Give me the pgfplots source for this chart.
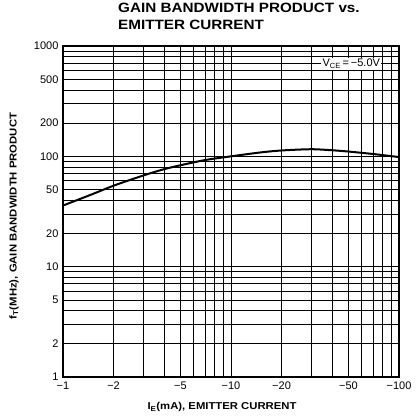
\documentclass[border=0pt]{standalone}
\usepackage{fontspec}
\setmainfont{Liberation Sans}
\newfontfamily\widefont[FakeStretch=1.13]{Liberation Sans}
\usepackage{pgfplots}
\pgfplotsset{compat=1.18}
\begin{document}
\begin{tikzpicture}[x=1pt,y=1pt]
\path[use as bounding box] (0,0) rectangle (418,416);
\begin{axis}[
  at={(63pt,39pt)}, anchor=south west,
  scale only axis, width=336pt, height=331pt,
  xmode=log, ymode=log,
  xmin=1, xmax=100, ymin=1, ymax=1000,
  axis line style={line width=1.8pt},
  grid=both,
  major grid style={black, line width=0.75pt},
  minor grid style={black, line width=0.75pt},
  xtick={1,2,5,10,20,50,100},
  xticklabels={−1,−2,−5,−10,−20,−50,−100},
  ytick={1,2,5,10,20,50,100,200,500,1000},
  yticklabels={1,2,5,10,20,50,100,200,500,1000},
  minor xtick={3,4,6,7,8,9,30,40,60,70,80,90},
  minor ytick={3,4,6,7,8,9,30,40,60,70,80,90,300,400,600,700,800,900},
  tick style={draw=none},
  tick label style={font=\fontsize{11}{12}\selectfont},
  xticklabel style={yshift=-1pt},
  yticklabel style={xshift=-1pt},
  /pgf/number format/assume math mode=true,
  clip=true,
]
\addplot[black, line width=2pt, smooth] coordinates {
 (1,35.8) (1.5,45.5) (2,54.2) (3,67) (4,76.5) (5,83) (7,92.5) (10,100)
 (15,108.5) (20,113) (30,116) (40,113.5) (50,110.5) (70,105) (100,98.5)
};
\node[fill=white, inner sep=1.5pt, font=\fontsize{11}{12}\selectfont, anchor=center]
  at (axis cs:52,690) {V\textsubscript{\fontsize{7.5}{8}\selectfont CE}\,=\,−5.0V};
\end{axis}
\node[anchor=north west, align=left, font=\widefont\fontsize{13.5}{17}\selectfont\bfseries, inner sep=0pt]
  at (118,413) {GAIN BANDWIDTH PRODUCT vs.\\EMITTER CURRENT};
\node[rotate=90, font=\widefont\fontsize{10}{10}\selectfont\bfseries, inner sep=0pt]
  at (14,200) {f\textsubscript{\fontsize{7}{7}\selectfont T}(MHz), GAIN BANDWIDTH PRODUCT};
\node[font=\widefont\fontsize{10}{10}\selectfont\bfseries, inner sep=0pt]
  at (222,9) {I\textsubscript{\fontsize{7}{7}\selectfont E}(mA), EMITTER CURRENT};
\end{tikzpicture}
\end{document}
